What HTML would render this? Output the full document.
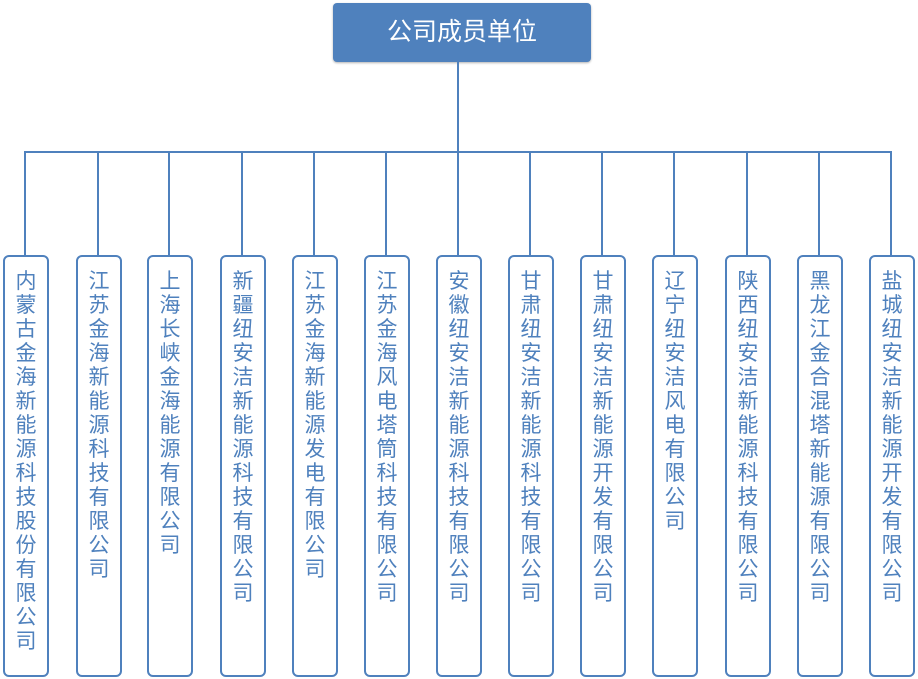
<!DOCTYPE html>
<html><head><meta charset="utf-8"><style>
body{margin:0;width:918px;height:679px;background:#fff;position:relative;overflow:hidden;font-family:"Liberation Sans","Noto Sans CJK SC",sans-serif}
.top{position:absolute;left:333px;top:3px;width:258px;height:59px;background:#4f81bd;border-radius:4px;color:#fff;font-size:25px;line-height:59px;text-align:center;box-shadow:0 1px 2px rgba(0,0,0,.3)}
.ln{position:absolute;background:#4f81bd}
.b{position:absolute;top:255px;width:42px;height:418px;border:2px solid #4f81bd;border-radius:6px;color:#4f81bd;font-size:21px;line-height:24px;text-align:center;box-sizing:content-box}
.b span{display:block;width:24px;margin:13px auto 0;word-break:break-all}
</style></head><body>
<div class="top">公司成员单位</div>
<div class="ln" style="left:457px;top:62px;width:2px;height:91px"></div>
<div class="ln" style="left:24px;top:151px;width:868px;height:2px"></div>
<div id="c"></div>
<script>
var cs=[25,98,169,242,314,386,458,530,602,674,747,819,891];
var t=["内蒙古金海新能源科技股份有限公司","江苏金海新能源科技有限公司","上海长峡金海能源有限公司","新疆纽安洁新能源科技有限公司","江苏金海新能源发电有限公司","江苏金海风电塔筒科技有限公司","安徽纽安洁新能源科技有限公司","甘肃纽安洁新能源科技有限公司","甘肃纽安洁新能源开发有限公司","辽宁纽安洁风电有限公司","陕西纽安洁新能源科技有限公司","黑龙江金合混塔新能源有限公司","盐城纽安洁新能源开发有限公司"];
var h="";
for(var i=0;i<13;i++){var c=cs[i];
h+='<div class="ln" style="left:'+(c-1)+'px;top:152px;width:2px;height:103px"></div>';
h+='<div class="b" style="left:'+(c-22)+'px"><span>'+t[i]+'</span></div>';}
document.getElementById("c").innerHTML=h;
</script>
</body></html>
